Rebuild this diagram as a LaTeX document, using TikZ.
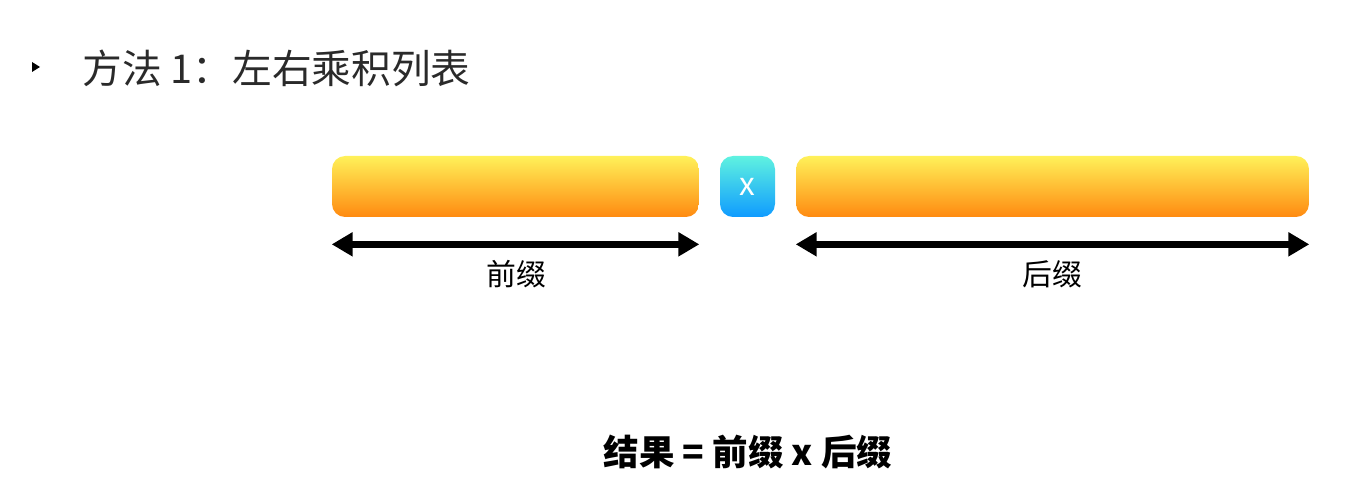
\documentclass[tikz,border=0pt]{standalone}
\usepackage{fontspec}
\newfontfamily\cjk{Noto Sans CJK SC}
\usetikzlibrary{arrows.meta}

\definecolor{barTop}{HTML}{FFF159}
\definecolor{barBot}{HTML}{FF8A10}
\definecolor{boxTop}{HTML}{5FF2E0}
\definecolor{boxBot}{HTML}{0F9BFF}
\definecolor{headGray}{HTML}{2A2A2A}

\tikzset{
  bar/.style={rounded corners=.26cm, top color=barTop, bottom color=barBot,
    draw=none, inner sep=0pt, minimum height=1.22cm},
  mulbox/.style={rounded corners=.26cm, top color=boxTop, bottom color=boxBot,
    draw=none, inner sep=0pt, minimum height=1.22cm, minimum width=1.1cm,
    text=white, font=\cjk\fontsize{18}{21}\selectfont},
  span/.style={line width=4pt, {Triangle[length=.42cm,width=.46cm]}-{Triangle[length=.42cm,width=.46cm]}},
  lbl/.style={font=\cjk\fontsize{17}{20}\selectfont},
}

\begin{document}
\begin{tikzpicture}[x=.02cm,y=-.02cm]
	\useasboundingbox (0,0) rectangle (1357,502);
	% heading
	\fill[black] (32,62) -- (40,67) -- (32,72) -- cycle;
	\node[anchor=west, inner sep=0pt, text=headGray, font=\cjk\fontsize{22.6}{26}\selectfont] (head) at (82,68) {方法 1：左右乘积列表};
	
	% bars
	\node[bar, minimum width=7.34cm] (pre) at (515.5,186.5) {};
	\node[mulbox] (mul) at (747.5,186.5) {x};
	\node[bar, minimum width=10.26cm] (suf) at (1052.5,186.5) {};
	
	\draw[span] ([yshift=-.54cm]pre.south west) -- ([yshift=-.54cm]pre.south east);
	\draw[span] ([yshift=-.54cm]suf.south west) -- ([yshift=-.54cm]suf.south east);
	
	\node[lbl] (prelbl) at (516,274) {前缀};
	\node[lbl] (suflbl) at (1052,274) {后缀};
	
	% result
	\node[font=\cjk\bfseries\fontsize{20.2}{24}\selectfont] (res) at (748,452) {结果 = 前缀 x 后缀};
\end{tikzpicture}
\end{document}
